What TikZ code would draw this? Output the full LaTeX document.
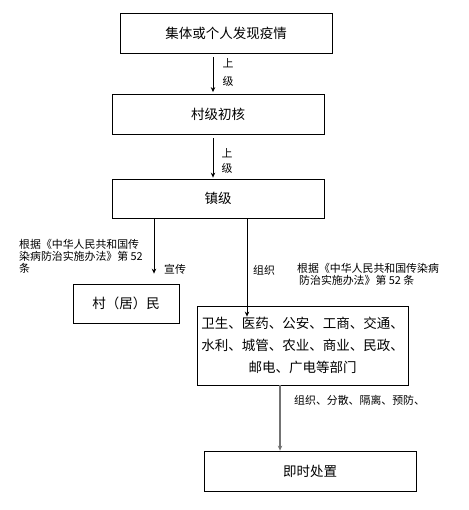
\documentclass[tikz,border=0pt]{standalone}
\usepackage{fontspec}
\setmainfont{Noto Sans CJK SC}
\usetikzlibrary{arrows.meta}
\begin{document}
\begin{tikzpicture}[x=1pt,y=-1pt,
  box/.style={draw, line width=0.8pt, inner sep=0pt, font=\fontsize{13.5}{22}\selectfont},
  arr/.style={line width=0.8pt, -{Stealth[length=5pt,width=4.5pt]}},
  lbl/.style={inner sep=0pt, font=\fontsize{10.9}{12}\selectfont},
]
\useasboundingbox (0,0) rectangle (468,510);
\fill[white] (0,0) rectangle (468,510);

\node[box, minimum width=212, minimum height=40] (b1) at (226,33) {集体或个人发现疫情};
\node[box, minimum width=212, minimum height=40] (b2) at (218,114) {村级初核};
\node[box, minimum width=212, minimum height=39] (b3) at (218,198.5) {镇级};
\node[box, minimum width=106, minimum height=39] (b4) at (126,303.5) {村（居）民};
\node[box, minimum width=211, minimum height=79, align=center] (b5) at (302.5,345.5)
  {卫生、医药、公安、工商、交通、\\水利、城管、农业、商业、民政、\\邮电、广电等部门};
\node[box, minimum width=212, minimum height=40] (b6) at (310,471) {即时处置};

\coordinate (x1) at (213,0);
\coordinate (x3) at (154,0);
\coordinate (x4) at (247,0);
\coordinate (x5) at (280,0);

\draw[arr, shorten <=4pt, shorten >=1.5pt] (b1.south -| x1) -- (b2.north -| x1);
\draw[arr, shorten <=4pt, shorten >=1pt] (b2.south -| x1) -- (b3.north -| x1);
\draw[arr, shorten >=10pt] (b3.south -| x3) -- (b4.north -| x3);
\draw[arr, shorten >=-11pt] (b3.south -| x4) -- (b5.north -| x4);
\draw[arr, draw=black!55, line width=1.2pt] (b5.south -| x5) -- (b6.north -| x5);

\node[lbl] (u1) at (228,63) {上};
\node[lbl] (j1) at (228,81) {级};
\node[lbl] (u2) at (227,153) {上};
\node[lbl] (j2) at (227,168) {级};

\node[lbl, anchor=north west, align=left] (lt) at (19,239)
  {根据《中华人民共和国传\\染病防治实施办法》第 52\\条};
\node[lbl] (xc) at (175,269) {宣传};
\node[lbl] (zz) at (264,270) {组织};
\node[lbl, anchor=north west, align=left] (rt) at (297,263)
  {根据《中华人民共和国传染病\\\hspace{2pt}防治实施办法》第 52 条};
\node[lbl, anchor=west] (bt) at (294,400) {组织、分散、隔离、预防、};
\end{tikzpicture}
\end{document}
